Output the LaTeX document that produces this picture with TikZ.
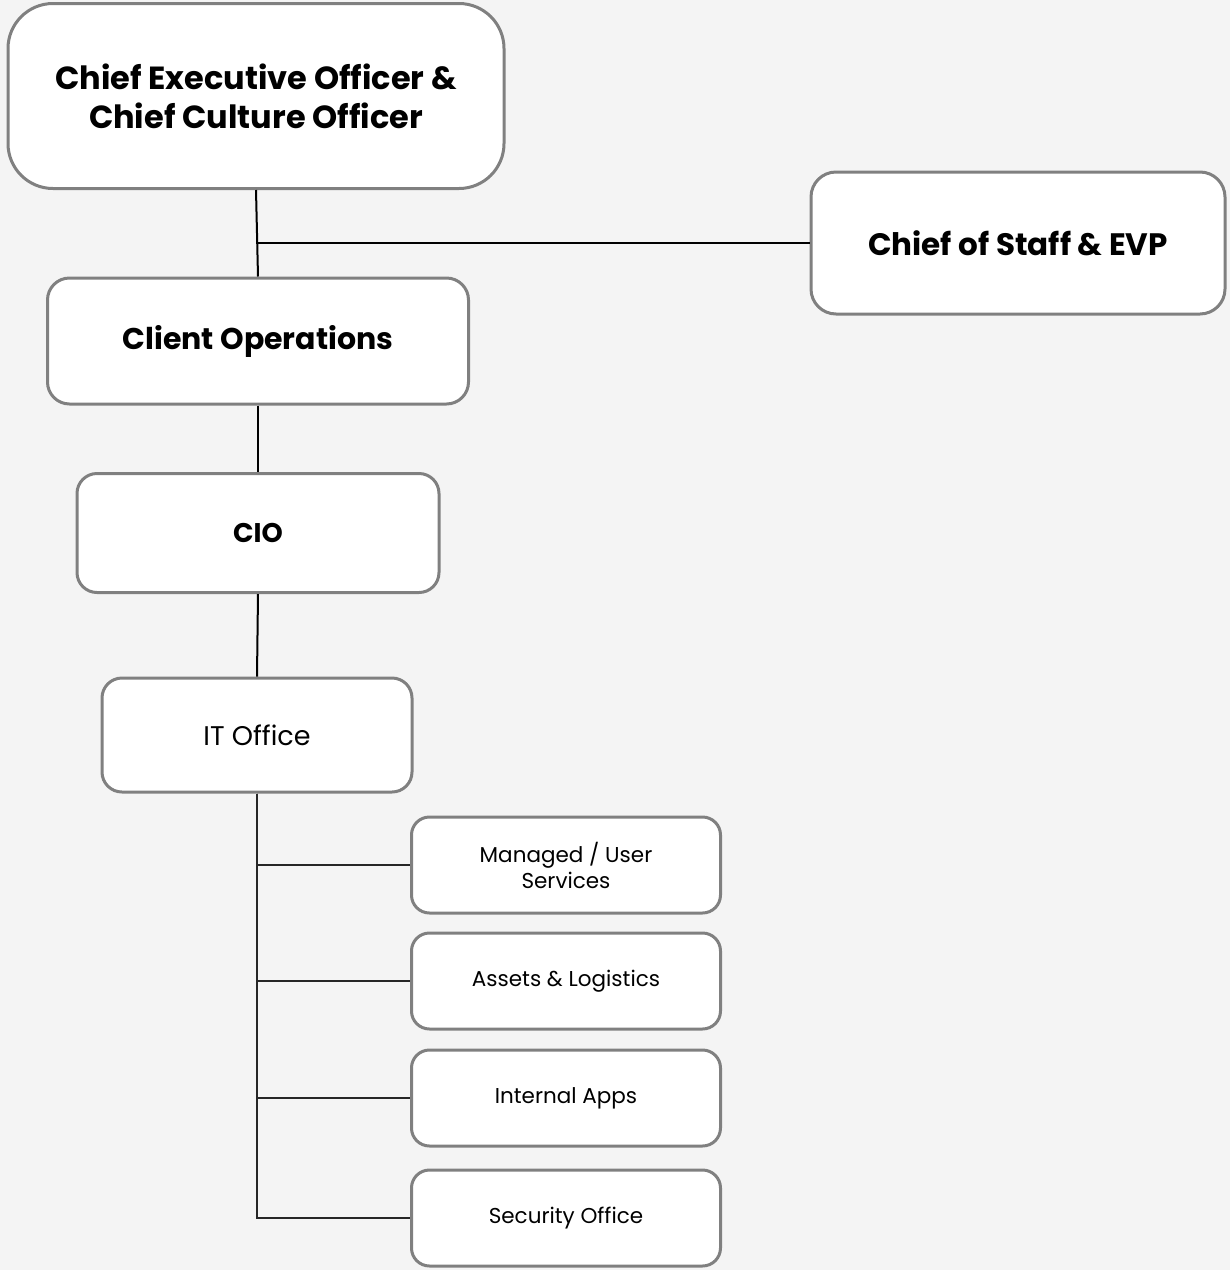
\documentclass[tikz,border=0pt]{standalone}
\usepackage{fontspec}
\setmainfont{Poppins}
\usepackage{tikz}

\definecolor{pagegray}{HTML}{F4F4F4}
\definecolor{boxline}{HTML}{808080}

\tikzset{
	unit/.style={rectangle, draw=boxline, fill=white, line width=3pt, align=center, inner sep=0pt},
	big/.style={font=\fontsize{32}{39}\selectfont\bfseries},
	team/.style={unit, minimum width=309pt, minimum height=96pt, rounded corners=18pt, font=\fontsize{21.5}{26}\selectfont},
	link/.style={line width=2pt, black},
	branch/.style={line width=1.5pt, black!85}
}

\begin{document}
\begin{tikzpicture}[x=1pt, y=-1pt]
	\fill[pagegray] (0,0) rectangle (1230,1270);
	\useasboundingbox (0,0) rectangle (1230,1270);

	\node[unit, big, minimum width=496pt, minimum height=185pt, rounded corners=45pt] (ceo) at (256,96) {Chief Executive Officer \&\\Chief Culture Officer};
	\node[unit, big, font=\fontsize{31}{38}\selectfont\bfseries, minimum width=414pt, minimum height=142pt, rounded corners=25pt] (cos) at (1018,243) {Chief of Staff \& EVP};
	\node[unit, font=\fontsize{30}{36}\selectfont\bfseries, minimum width=421pt, minimum height=126pt, rounded corners=22pt] (ops) at (258,341) {Client Operations};
	\node[unit, font=\fontsize{27}{32}\selectfont\bfseries, minimum width=362pt, minimum height=119pt, rounded corners=20pt] (cio) at (258,533) {CIO};
	\node[unit, font=\fontsize{27}{32}\selectfont, minimum width=310pt, minimum height=114pt, rounded corners=20pt] (it) at (257,735) {IT Office};
		\node[team] (users) at (566,865) {Managed / User\\Services};
		\node[team] (assets) at (566,981) {Assets \& Logistics};
		\node[team] (apps) at (566,1098) {Internal Apps};
		\node[team] (sec) at (566,1218) {Security Office};

	\coordinate (fork) at (257,243);
	\draw[link] (ceo.south) -- (ops.north);
	\draw[link] (fork) -- (cos.west);
	\draw[link] (ops.south) -- (cio.north);
	\draw[link] (cio.south) -- (it.north);
	\draw[branch] (it.south) |- (users.west);
	\draw[branch] (it.south) |- (assets.west);
	\draw[branch] (it.south) |- (apps.west);
	\draw[branch] (it.south) |- (sec.west);
\end{tikzpicture}
\end{document}
